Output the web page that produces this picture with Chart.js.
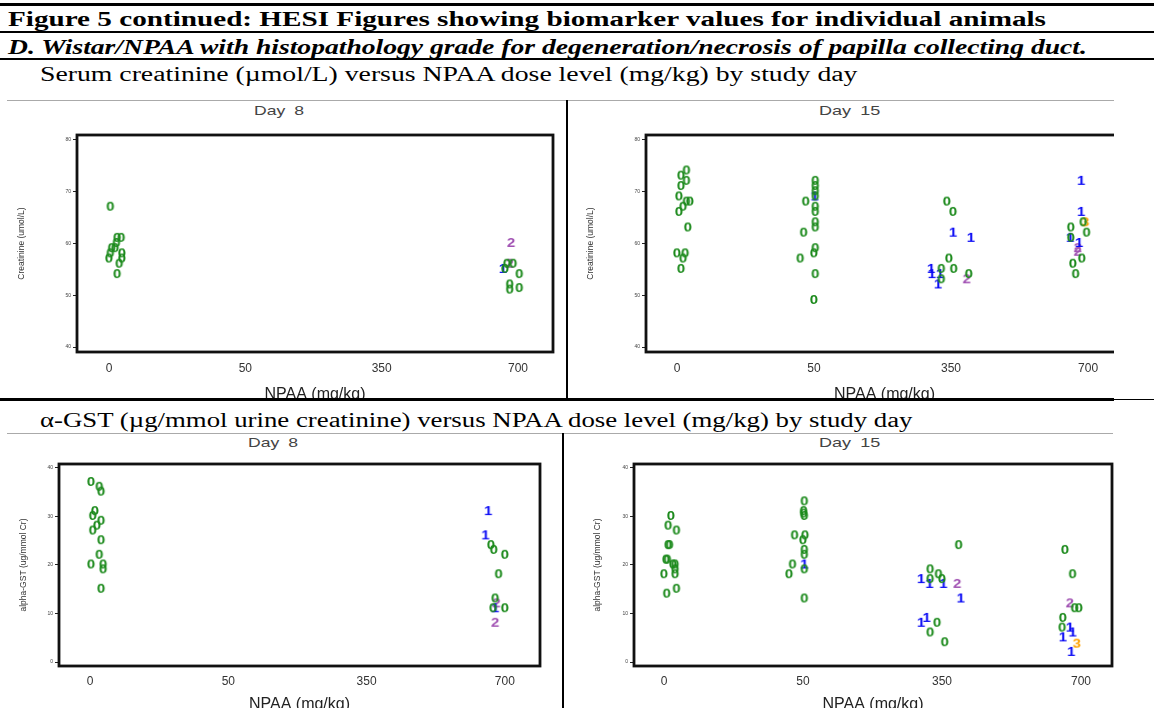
<!DOCTYPE html>
<html>
<head>
<meta charset="utf-8">
<script src="https://cdn.jsdelivr.net/npm/chart.js"></script>
<style>
  body { margin: 0; background: #fff; width: 1154px; height: 708px; overflow: hidden; position: relative; }
  .rule { position: absolute; background: #000; z-index: 5; }
  .hd { position: absolute; font-family: "Liberation Serif", "Times New Roman", serif; font-size: 20px; line-height: 20px; white-space: nowrap; transform-origin: 0 0; color: #000; }
  .strip { position: absolute; font-family: "Liberation Sans", Arial, sans-serif; font-size: 13px; line-height: 13px; color: #444; white-space: nowrap; transform-origin: 0 0; word-spacing: 3px; }
  .panel { position: absolute; overflow: hidden; }
  .panel canvas { position: absolute; }
</style>
</head>
<body>
<div class="rule" style="left:0;top:3px;width:1154px;height:3px"></div>
<div class="hd" id="h1" style="top:9px;font-weight:bold">Figure 5 continued: HESI Figures showing biomarker values for individual animals</div>
<div class="rule" style="left:0;top:31px;width:1154px;height:2px"></div>
<div class="hd" id="h2" style="top:37px;font-weight:bold;font-style:italic">D. Wistar/NPAA with histopathology grade for degeneration/necrosis of papilla collecting duct.</div>
<div class="rule" style="left:0;top:58px;width:1154px;height:2px"></div>
<div class="hd" id="h3" style="top:64px">Serum creatinine (µmol/L) versus NPAA dose level (mg/kg) by study day</div>
<div class="rule" style="left:7px;top:100px;width:1107px;height:1px;background:#aaa"></div>
<div class="rule" style="left:566px;top:100px;width:2px;height:298px"></div>
<div class="rule" style="left:0;top:398px;width:1114px;height:3px"></div>
<div class="rule" style="left:1114px;top:399px;width:40px;height:1px"></div>
<div class="hd" id="h4" style="top:410px">α-GST (µg/mmol urine creatinine) versus NPAA dose level (mg/kg) by study day</div>
<div class="rule" style="left:7px;top:433px;width:1106px;height:1px;background:#aaa"></div>
<div class="rule" style="left:562px;top:433px;width:2px;height:275px"></div>

<div class="strip" id="s1" style="top:104px">Day 8</div>
<div class="strip" id="s2" style="top:104px">Day 15</div>
<div class="strip" id="s3" style="top:436px">Day 8</div>
<div class="strip" id="s4" style="top:436px">Day 15</div>

<div class="panel" style="left:0;top:101px;width:566px;height:297px"><canvas id="c1" width="557" height="282" style="left:8px;top:27px"></canvas></div>
<div class="panel" style="left:568px;top:101px;width:546px;height:297px"><canvas id="c2" width="558" height="282" style="left:9px;top:27px"></canvas></div>
<div class="panel" style="left:0;top:434px;width:562px;height:274px"><canvas id="c3" width="542" height="263" style="left:10px;top:23px"></canvas></div>
<div class="panel" style="left:565px;top:434px;width:549px;height:274px"><canvas id="c4" width="540" height="263" style="left:19px;top:23px"></canvas></div>

<script>
// dose groups (x categories) and histopathology grades
const doseLabels = ['0', '50', '350', '700'];
const gradeLabels = ['0', '1', '2', '3'];

// Serum creatinine, Day 8 (x = dose index incl. jitter)
const creatD8X = [0.01, 0.06, 0.09, 0.055, 0.02, 0.045, 0.01, 0.095, 0.0, 0.095, 0.075, 0.06,
                  2.95, 2.92, 2.94, 2.965, 2.89, 2.905, 3.01, 2.94, 2.94, 3.01];
const creatD8Y = [67, 61, 61, 60, 59, 59, 58, 58, 57, 57, 56, 54,
                  60, 56, 56, 56, 55, 55, 54, 52, 51, 51.3];
const creatD8G = [0, 0, 0, 0, 0, 0, 0, 0, 0, 0, 0, 0,
                  2, 0, 2, 0, 1, 0, 0, 0, 0, 0];

// Serum creatinine, Day 15
const creatD15X = [0.07, 0.03, 0.07, 0.03, 0.015, 0.07, 0.095, 0.045, 0.015, 0.08, 0.0, 0.06, 0.045, 0.03,
                   1.01, 1.01, 1.01, 1.01, 1.005, 0.94, 1.01, 1.01, 1.01, 1.01, 0.925, 1.01, 1.0, 0.9, 1.01, 1.0,
                   1.97, 2.015, 2.015, 2.145, 1.985, 1.855, 1.93, 2.02, 1.86, 1.92, 1.93, 2.13, 1.905, 2.115,
                   2.95, 2.95, 2.965, 2.98, 2.875, 2.99, 2.875, 2.87, 2.935, 2.925, 2.925, 2.955, 2.89, 2.91];
const creatD15Y = [74, 73, 72, 71, 69, 68, 68, 67, 66, 63, 58, 58, 57, 55,
                   72, 71, 70, 69, 69, 68, 67, 66, 64, 63, 62, 59, 58, 57, 54, 49,
                   68, 66, 62, 61, 57, 55, 55, 55, 54, 54, 53, 54, 52, 53,
                   72, 66, 64, 64, 63, 62, 61, 61, 60, 59, 58.3, 57, 56, 54];
const creatD15G = [0, 0, 0, 0, 0, 0, 0, 0, 0, 0, 0, 0, 0, 0,
                   0, 0, 0, 0, 1, 0, 0, 0, 0, 0, 0, 0, 0, 0, 0, 0,
                   0, 0, 1, 1, 0, 1, 0, 0, 1, 1, 0, 0, 1, 2,
                   1, 1, 0, 3, 0, 0, 0, 1, 1, 2, 2, 0, 0, 0];

// alpha-GST, Day 8
const gstD8X = [0.007, 0.067, 0.08, 0.035, 0.02, 0.08, 0.05, 0.02, 0.08, 0.067, 0.007, 0.095, 0.095, 0.08,
                2.88, 2.86, 2.9, 2.92, 3.0, 2.955, 2.93, 2.94, 2.915, 2.93, 3.0, 2.93];
const gstD8Y = [37, 36, 35, 31, 30, 29, 28, 27, 25, 22, 20, 20, 19, 15,
                31, 26, 24, 23, 22, 18, 13, 12, 11, 11, 11, 8];
const gstD8G = [0, 0, 0, 0, 0, 0, 0, 0, 0, 0, 0, 0, 0, 0,
                1, 1, 0, 0, 0, 0, 0, 2, 0, 1, 0, 2];

// alpha-GST, Day 15
const gstD15X = [0.05, 0.03, 0.09, 0.03, 0.04, 0.015, 0.025, 0.065, 0.08, 0.08, 0.0, 0.08, 0.02, 0.09,
                 1.01, 1.005, 1.005, 1.01, 0.94, 1.015, 1.0, 1.01, 1.01, 0.925, 1.01, 1.01, 0.9, 1.01,
                 2.12, 1.915, 1.975, 1.915, 2.0, 1.85, 1.91, 2.01, 2.11, 2.135, 1.89, 1.85, 1.965, 1.915, 2.02,
                 2.885, 2.94, 2.92, 2.955, 2.985, 2.87, 2.865, 2.92, 2.94, 2.87, 2.97, 2.93];
const gstD15Y = [30, 28, 27, 24, 24, 21, 21, 20, 20, 19, 18, 18, 14, 15,
                 33, 31, 30.5, 30, 26, 26, 25, 23, 22, 20, 20, 19, 18, 13,
                 24, 19, 18, 17, 17, 17, 16, 16, 16, 13, 9, 8, 8, 6, 4,
                 23, 18, 12, 11, 11, 9, 7, 7, 6, 5, 3.7, 2];
const gstD15G = [0, 0, 0, 0, 0, 0, 0, 0, 0, 0, 0, 0, 0, 0,
                 0, 0, 0, 0, 0, 0, 0, 0, 0, 0, 1, 0, 0, 0,
                 0, 0, 0, 0, 0, 1, 1, 1, 2, 1, 1, 1, 0, 0, 0,
                 0, 0, 2, 0, 0, 0, 0, 1, 1, 1, 3, 1];

const creatTicks = [40, 50, 60, 70, 80];
const gstTicks = [0, 10, 20, 30, 40];

const gradeColors = ['#1c8a1c', '#0a0af5', '#a050b2', '#ffa200'];
const sansFont = '"Liberation Sans", Arial, sans-serif';

function glyph(ch, color) {
    const c = document.createElement('canvas');
    c.width = 14; c.height = 13;
    const g = c.getContext('2d');
    g.translate(7, 7);
    g.scale(1.25, 1);
    g.font = 'bold 12px ' + sansFont;
    g.fillStyle = color;
    g.textAlign = 'center';
    g.textBaseline = 'middle';
    g.fillText(ch, 0, 0);
    return c;
}
const glyphs = gradeLabels.map((t, i) => glyph(t, gradeColors[i]));

const framePlugin = {
    id: 'frame',
    beforeDatasetsDraw(chart) {
        const a = chart.chartArea, ctx = chart.ctx;
        ctx.save();
        ctx.strokeStyle = '#111';
        ctx.lineWidth = 2.8;
        ctx.strokeRect(a.left, a.top, a.right - a.left, a.bottom - a.top);
        ctx.restore();
    }
};

function makePanel(id, xs, ys, gs, yTicks, yTitle, L) {
    const datasets = gradeLabels.map((t, g) => ({
        label: 'Grade ' + t,
        data: xs.map((x, i) => ({ x: x, y: ys[i], g: gs[i] })).filter(p => p.g === g),
        pointStyle: glyphs[g],
        pointRadius: 6,
        pointHoverRadius: 6
    }));
    return new Chart(document.getElementById(id), {
        type: 'scatter',
        data: { datasets: datasets },
        options: {
            responsive: false,
            animation: false,
            events: [],
            layout: { padding: { top: 4, right: 12, left: 0, bottom: 0 } },
            plugins: { legend: { display: false }, tooltip: { enabled: false } },
            scales: {
                x: {
                    type: 'linear', min: L.xMin, max: L.xMax,
                    grid: { display: false }, border: { display: false },
                    afterBuildTicks: s => { s.ticks = doseLabels.map((d, i) => ({ value: i })); },
                    afterFit: s => { s.height = L.xAxisH; },
                    ticks: { callback: v => doseLabels[v], font: { family: sansFont, size: 12 }, color: '#333',
                             padding: L.xTickPad, maxRotation: 0, autoSkip: false },
                    title: { display: true, text: 'NPAA (mg/kg)', font: { family: sansFont, size: 16 }, color: '#222',
                             padding: { top: 0, bottom: L.xTitlePad } }
                },
                y: {
                    type: 'linear', min: L.yMin, max: L.yMax,
                    grid: { display: true, drawOnChartArea: false, drawTicks: true, tickLength: 4, color: '#222' },
                    border: { display: false },
                    afterBuildTicks: s => { s.ticks = yTicks.map(v => ({ value: v })); },
                    afterFit: s => { s.width = L.yAxisW; },
                    ticks: { font: { family: sansFont, size: 5 }, color: '#444', padding: 2 },
                    title: { display: true, text: yTitle, font: { family: sansFont, size: 8.5 }, color: '#333',
                             padding: { top: 9, bottom: 0 } }
                }
            }
        },
        plugins: [framePlugin]
    });
}

makePanel('c1', creatD8X, creatD8Y, creatD8G, creatTicks, 'Creatinine (umol/L)',
    { xMin: -0.235, xMax: 3.257, yMin: 39.05, yMax: 80.95, yAxisW: 69, xAxisH: 58, xTickPad: 1, xTitlePad: 6 });
makePanel('c2', creatD15X, creatD15Y, creatD15G, creatTicks, 'Creatinine (umol/L)',
    { xMin: -0.226, xMax: 3.255, yMin: 39.05, yMax: 80.95, yAxisW: 69, xAxisH: 58, xTickPad: 1, xTitlePad: 6 });
makePanel('c3', gstD8X, gstD8Y, gstD8G, gstTicks, 'alpha-GST (ug/mmol Cr)',
    { xMin: -0.225, xMax: 3.254, yMin: -0.8, yMax: 40.8, yAxisW: 49, xAxisH: 54, xTickPad: 0, xTitlePad: 6 });
makePanel('c4', gstD15X, gstD15Y, gstD15G, gstTicks, 'alpha-GST (ug/mmol Cr)',
    { xMin: -0.216, xMax: 3.223, yMin: -0.8, yMax: 40.8, yAxisW: 50, xAxisH: 54, xTickPad: 0, xTitlePad: 6 });

// stretch text to the widths it has in the scanned figure
function fitLeft(id, x0, x1) {
    const el = document.getElementById(id);
    el.style.left = x0 + 'px';
    el.style.transform = 'scaleX(' + ((x1 - x0) / el.offsetWidth) + ')';
}
function fitCenter(id, cx, w) {
    const el = document.getElementById(id);
    el.style.left = (cx - w / 2) + 'px';
    el.style.transform = 'scaleX(' + (w / el.offsetWidth) + ')';
}
fitLeft('h1', 8, 1046);
fitLeft('h2', 8, 1087);
fitLeft('h3', 40, 858);
fitLeft('h4', 40, 912);
fitCenter('s1', 279, 50);
fitCenter('s2', 849, 61);
fitCenter('s3', 273, 50);
fitCenter('s4', 849, 61);
</script>
</body>
</html>
